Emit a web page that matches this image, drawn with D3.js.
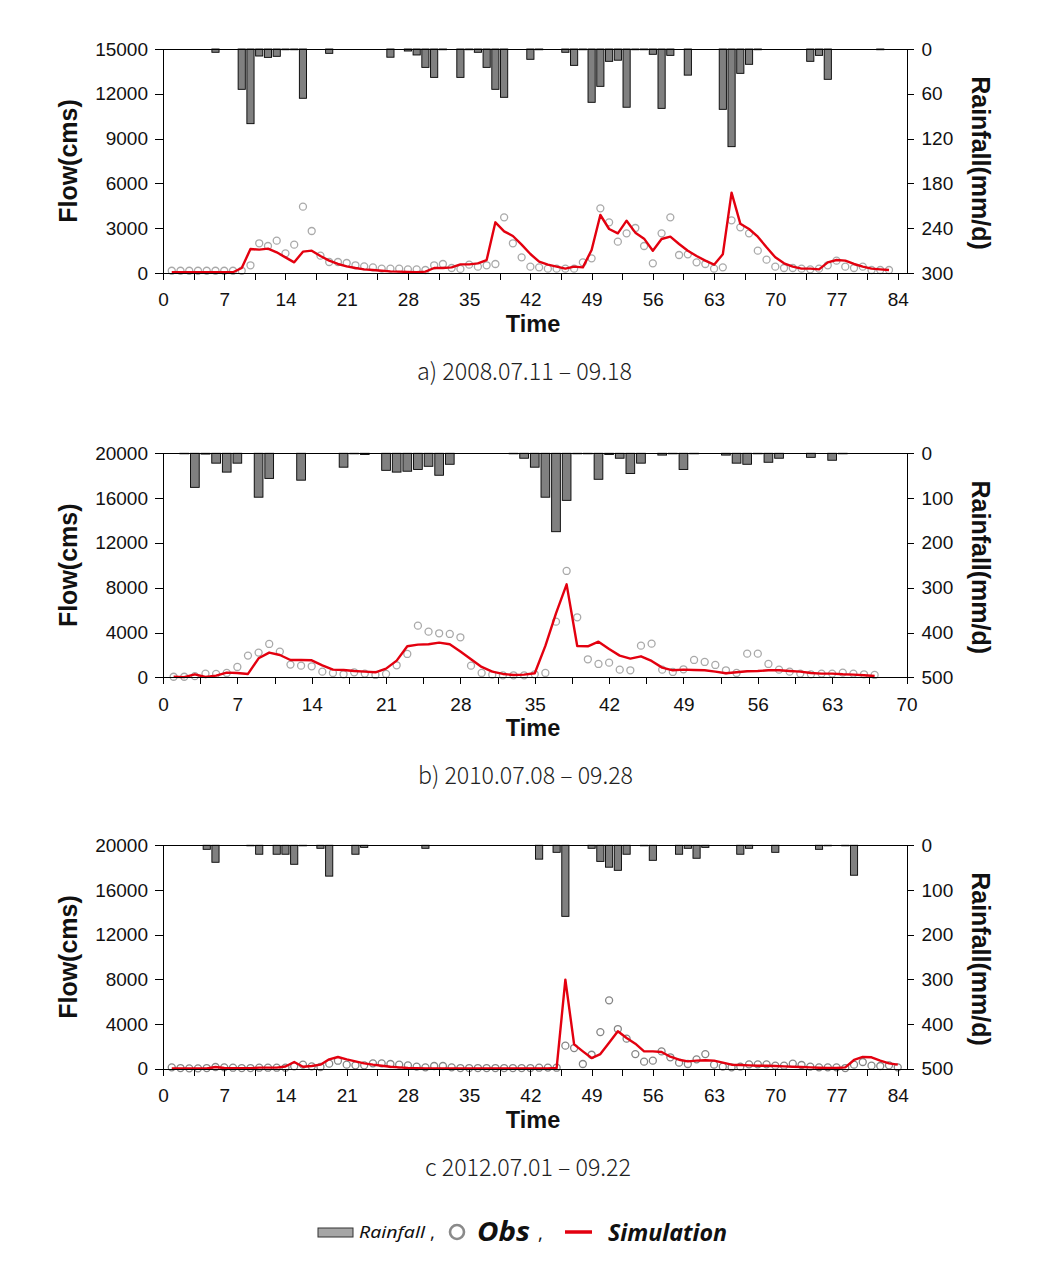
<!DOCTYPE html>
<html><head><meta charset="utf-8">
<script src="https://cdn.jsdelivr.net/npm/d3@7"></script>
<style>body{margin:0;background:#fff}</style>
</head><body>
<svg id="chart" width="1063" height="1268"></svg>
<script>
// ---- Panel a: 2008.07.11 - 09.18 (days 1..83)
const rainA = [0,0,0,0,0,4.4,0,0,54,100,9.4,11.2,9.8,1,1,66,0,0,5.8,0,0,0,0,0,0,11,0,2.7,8,24.6,38,1,0,38,1,4.4,24.6,54,64.7,0,0,13.8,1,0,0,4.4,21.9,1,71.4,50,16.5,15,78,1,1,7.1,79.5,8.5,0,35,0,0,0,80.8,130.8,32.6,20.5,1,0,0,0,0,0,16.5,8.5,40.6,0,0,0,0,0,1,0];
const obsA = [150,150,150,150,150,150,150,150,150,515,1989,1808,2165,1317,1897,4442,2813,1161,737,737,670,515,446,379,290,290,290,245,245,200,515,603,335,275,558,424,515,603,3728,1989,1049,424,379,290,290,290,290,714,982,4330,3393,2098,2656,3013,1808,647,2656,3728,1205,1250,714,603,290,379,3527,3058,2656,1495,893,424,335,335,290,245,290,515,826,424,335,424,200,200,200];
const simA = [50,50,50,50,50,50,50,50,335,1607,1562,1630,1384,1049,714,1428,1495,1138,826,603,446,335,245,200,150,110,90,70,50,90,335,335,380,580,580,647,870,3393,2790,2478,1897,1272,759,558,424,290,424,379,1540,3884,2946,2656,3504,2701,2299,1495,2277,2433,1942,1495,1138,826,558,1250,5379,3303,2946,2433,1719,1049,647,424,290,290,245,714,870,826,603,424,290,245,200];

// ---- Panel b: 2010.07.08 - 09.28 (days 1..67)
const rainB = [0,1,76,1.7,22,42,22,0,98,56,0,0,60,0,0,0,31,1,2.5,0,38,42,40,36,29,49,24.5,0,0,0,0,0,1,11,31,98,175,105,1,1,58,2.5,11,45,22,0,4,1,36,1,0,0,4,22,24.5,1,20,11,0,0,9,0,15.5,1,0,0,0];
const obsB = [50,50,100,330,300,387,923,1940,2208,2976,2297,1136,1042,982,506,387,268,446,330,208,300,1071,2083,4613,4077,3929,3869,3571,1042,387,238,179,179,179,268,387,4970,9494,5357,1607,1190,1310,685,625,2827,3006,685,476,714,1548,1369,1101,625,387,2113,2113,1190,685,506,330,268,330,330,417,330,268,208];
const simB = [50,20,268,30,150,417,387,300,1696,2208,1994,1548,1548,1518,1071,685,655,565,506,446,774,1488,2768,2917,2946,3095,2946,2297,1607,923,506,300,208,238,357,2800,5714,8301,2797,2768,3184,2530,1935,1667,1875,1458,863,625,685,655,625,506,357,446,536,565,625,625,565,506,387,330,330,268,238,179,119];

// ---- Panel c: 2012.07.01 - 09.22 (days 1..84)
const rainC = [0,0,0,0,9,38,0,0,0,1,20,0,20,20,42.5,1,0,6.7,69,0,0,20,4.6,0,0,0,0,0,0,6.7,0,0,0,0,0,0,0,0,0,0,0,0,31,0,15.7,159,0,0,6.7,36,49,56,20,0,1,33.6,0,0,20,6.7,29,4.6,0,0,0,20,6.7,0,0,15.7,0,0,0,0,9,1,0,1,67,0,0,0,0,0];
const obsC = [120,60,30,30,60,150,120,90,60,60,90,90,90,90,212,360,212,150,450,716,360,300,300,480,480,420,360,300,180,120,240,240,120,60,60,60,60,60,60,60,60,60,90,100,90,2060,1850,420,1250,3280,6120,3550,2690,1310,630,720,1550,1020,540,420,840,1310,360,180,120,180,390,390,390,270,270,450,330,180,120,120,120,60,360,600,270,240,300,120];
const simC = [20,20,20,20,20,150,60,40,40,40,100,100,100,200,600,180,240,360,840,1050,840,660,480,360,270,180,120,60,40,20,20,20,20,20,20,20,20,20,20,20,20,20,20,20,60,7970,2180,1555,955,1310,2330,3350,2750,2240,1555,1555,1495,1075,805,660,720,750,720,540,360,330,300,270,270,240,210,180,150,120,90,60,60,120,780,1050,1020,720,480,360];

// ---- Axis ticks / labels
const flowTicksA = [0,3000,6000,9000,12000,15000];
const flowTicksBC = [0,4000,8000,12000,16000,20000];
const rainTicksA = [0,60,120,180,240,300];
const rainTicksBC = [0,100,200,300,400,500];
const captions = ["a) 2008.07.11 \u2013 09.18", "b) 2010.07.08 \u2013 09.28", "c 2012.07.01 \u2013 09.22"];
const legendLabels = ["Rainfall", "Obs", "Simulation"];

const panels = [
  {top:49, bottom:273, xMax:85, lastTick:84, flowMax:15000, flowTicks:flowTicksA, rainMax:300, rainTicks:rainTicksA,
   rain:rainA, obs:obsA, sim:simA, obsColor:"#a9a9a9", caption:captions[0], capX:417, capW:215},
  {top:453.3, bottom:677.3, xMax:70, lastTick:70, flowMax:20000, flowTicks:flowTicksBC, rainMax:500, rainTicks:rainTicksBC,
   rain:rainB, obs:obsB, sim:simB, obsColor:"#a9a9a9", caption:captions[1], capX:418, capW:215},
  {top:845.3, bottom:1068.7, xMax:85, lastTick:84, flowMax:20000, flowTicks:flowTicksBC, rainMax:500, rainTicks:rainTicksBC,
   rain:rainC, obs:obsC, sim:simC, obsColor:"#858585", caption:captions[2], capX:425, capW:206}
];

const svg = d3.select("#chart");
svg.append("rect").attr("width",1063).attr("height",1268).attr("fill","#fff");
const left = 163, right = 906.5;
const tickFont = "'Liberation Sans', Arimo, Arial, sans-serif";
const fmt = d3.format("d");

panels.forEach(p => {
  const g = svg.append("g");
  const x = d3.scaleLinear().domain([0, p.xMax]).range([left, right]);
  const y = d3.scaleLinear().domain([0, p.flowMax]).range([p.bottom, p.top]);
  const yr = d3.scaleLinear().domain([0, p.rainMax]).range([p.top, p.bottom]);
  const step = x(1) - x(0);
  const bw = step * 0.82;

  // rainfall bars (hanging from top)
  g.append("g").selectAll("rect")
    .data(p.rain.map((v,i)=>({d:i+1, v})).filter(o=>o.v>0))
    .join("rect")
    .attr("x", o => x(o.d) - bw/2)
    .attr("y", yr(0))
    .attr("width", bw)
    .attr("height", o => Math.max(0.5, yr(o.v) - yr(0)))
    .attr("fill", "#808080")
    .attr("stroke", "#000")
    .attr("stroke-width", 0.9);

  // observed circles
  g.append("g").selectAll("circle")
    .data(p.obs.map((v,i)=>({d:i+1, v})))
    .join("circle")
    .attr("cx", o => x(o.d))
    .attr("cy", o => y(o.v))
    .attr("r", 3.5)
    .attr("fill", "none")
    .attr("stroke", p.obsColor)
    .attr("stroke-width", 1.3);

  // simulation line
  g.append("path")
    .datum(p.sim.map((v,i)=>({d:i+1, v})))
    .attr("fill","none")
    .attr("stroke","#e3000f")
    .attr("stroke-width",2.4)
    .attr("stroke-linejoin","round")
    .attr("d", d3.line().x(o=>x(o.d)).y(o=>y(o.v)));

  // top frame line
  g.append("line").attr("x1",left).attr("x2",right).attr("y1",p.top).attr("y2",p.top)
    .attr("stroke","#000").attr("stroke-width",1).attr("shape-rendering","crispEdges");

  // axes
  const ax = g.append("g").attr("transform",`translate(0,${p.bottom})`)
    .call(d3.axisBottom(x).tickValues(d3.range(0, p.lastTick+0.01, 3.5))
      .tickFormat(v => (v % 7 === 0) ? fmt(v) : "").tickSize(7).tickSizeOuter(0).tickPadding(13));
  const al = g.append("g").attr("transform",`translate(${left},0)`)
    .call(d3.axisLeft(y).tickValues(p.flowTicks).tickFormat(fmt).tickSize(8).tickSizeOuter(0).tickPadding(7));
  const ar = g.append("g").attr("transform",`translate(${right},0)`)
    .call(d3.axisRight(yr).tickValues(p.rainTicks).tickFormat(fmt).tickSize(7).tickSizeOuter(0).tickPadding(8));
  [ax, al, ar].forEach(a => {
    a.attr("font-family", tickFont).attr("font-size", 19);
    a.selectAll("path,line").attr("stroke","#000").attr("stroke-width",1).attr("shape-rendering","crispEdges");
    a.selectAll("text").attr("font-family", tickFont).attr("font-size", 19).attr("fill","#111");
  });

  const mid = (p.top + p.bottom)/2;
  g.append("text").attr("transform",`translate(77,${mid}) rotate(-90)`)
    .attr("text-anchor","middle").attr("font-family",tickFont).attr("font-weight","bold")
    .attr("font-size",25).attr("fill","#111").text("Flow(cms)");
  g.append("text").attr("transform",`translate(972,${mid+2}) rotate(90)`)
    .attr("text-anchor","middle").attr("font-family",tickFont).attr("font-weight","bold")
    .attr("font-size",25).attr("fill","#111").text("Rainfall(mm/d)");
  g.append("text").attr("x",533).attr("y",p.bottom+59)
    .attr("text-anchor","middle").attr("font-family",tickFont).attr("font-weight","bold")
    .attr("font-size",23.5).attr("fill","#111").text("Time");
  g.append("text").attr("x",p.capX).attr("y",p.bottom+107)
    .attr("font-family","'Noto Sans CJK KR', 'Noto Sans', sans-serif").attr("font-weight",300)
    .attr("font-size",24).attr("fill","#222")
    .attr("textLength",p.capW).attr("lengthAdjust","spacingAndGlyphs")
    .text(p.caption);
});

// legend
const lg = svg.append("g");
const lf = "'Noto Sans', 'Open Sans', sans-serif";
lg.append("rect").attr("x",318).attr("y",1228).attr("width",35).attr("height",9)
  .attr("fill","#a6a6a6").attr("stroke","#333").attr("stroke-width",1);
lg.append("text").attr("x",359).attr("y",1238).attr("font-family",lf).attr("font-style","italic")
  .attr("font-size",16).attr("fill","#111")
  .attr("textLength",66).attr("lengthAdjust","spacingAndGlyphs").text(legendLabels[0]);
lg.append("text").attr("x",430).attr("y",1239).attr("font-family",lf)
  .attr("font-size",18).attr("fill","#111").text(",");
lg.append("circle").attr("cx",457).attr("cy",1232).attr("r",7)
  .attr("fill","none").attr("stroke","#8a8a8a").attr("stroke-width",2.6);
lg.append("text").attr("x",477).attr("y",1241).attr("font-family",lf).attr("font-style","italic")
  .attr("font-weight","bold").attr("font-size",26).attr("fill","#111")
  .attr("textLength",53).attr("lengthAdjust","spacingAndGlyphs").text(legendLabels[1]);
lg.append("text").attr("x",538).attr("y",1240).attr("font-family",lf)
  .attr("font-size",18).attr("fill","#111").text(",");
lg.append("line").attr("x1",565).attr("x2",592).attr("y1",1232).attr("y2",1232)
  .attr("stroke","#e3000f").attr("stroke-width",3.5);
lg.append("text").attr("x",608).attr("y",1241).attr("font-family",lf).attr("font-style","italic")
  .attr("font-weight","bold").attr("font-size",22.5).attr("fill","#111")
  .attr("textLength",119).attr("lengthAdjust","spacingAndGlyphs").text(legendLabels[2]);
</script>
</body></html>
